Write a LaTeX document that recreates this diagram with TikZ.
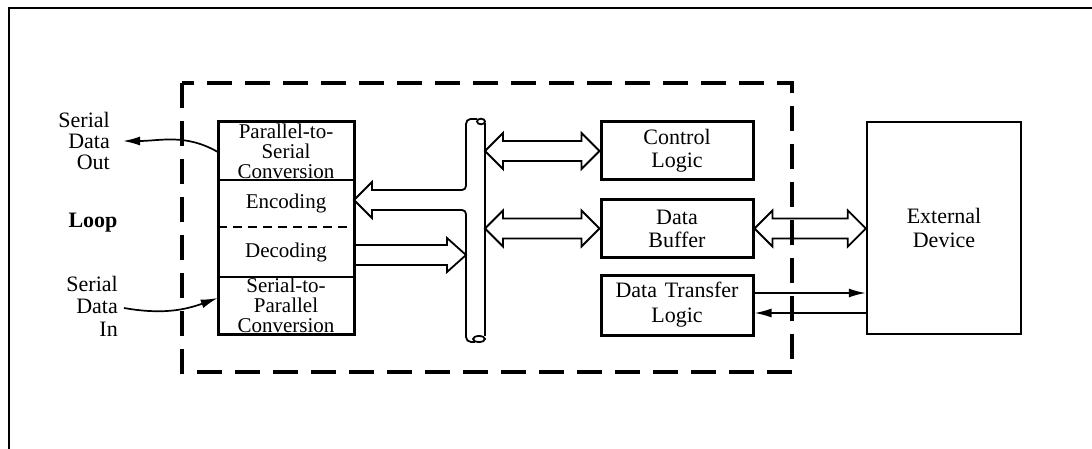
\documentclass[tikz,border=0pt]{standalone}
\usepackage{fontspec}
\setmainfont{Liberation Serif}
\usetikzlibrary{arrows.meta,calc}
\tikzset{
  blk/.style={draw=none, minimum width=136pt, inner sep=0pt, align=center, font=\fontsize{21}{20}\selectfont},
  unit/.style={draw, line width=3pt, minimum width=152pt, inner sep=0pt, align=center},
  hollow/.style={line width=1.8pt, line join=miter},
  conn/.style={line width=1.7pt},
  tip/.style={-{Latex[length=17pt,width=9pt]}},
  lbl/.style={inner sep=0pt, align=right},
}
\newcommand\hdbl[2]{\draw[hollow] let \p1=#1, \p2=#2 in
  (\x1,\y1) -- ++(18pt,18pt) -- ++(0,-8pt) -- (\x2-18pt,\y1+10pt) -- ++(0,8pt)
  -- (\x2,\y1) -- ++(-18pt,-18pt) -- ++(0,8pt) -- (\x1+18pt,\y1-10pt) -- ++(0,-8pt) -- cycle;}
\begin{document}
\begin{tikzpicture}[x=1pt,y=-1pt]
\useasboundingbox (0,0) rectangle (1092,449);
% outer frame
\draw[line width=1.6pt] (9,449) -- (9,8) -- (1092,8);
% dashed boundary
\draw[line width=3.2pt, dash pattern=on 25pt off 13pt] (182,83) rectangle (792,372);

% left stacked box
\node[blk, minimum height=58pt] (ps) at (286,151) {Parallel-to-\\Serial\\Conversion};
\node[blk, minimum height=47pt] (enc) at (286,203.5) {Encoding};
\node[blk, minimum height=50pt] (dec) at (286,252) {Decoding};
\node[blk, minimum height=57pt] (sp) at (286,305.5) {Serial-to-\\Parallel\\Conversion};
\draw[line width=3pt] (218,122) rectangle (354,334);
\draw[line width=1.6pt] (218,180) -- (354,180);
\draw[line width=1.5pt, dash pattern=on 9pt off 6pt] (218,227) -- (354,227);
\draw[line width=1.6pt] (218,277) -- (354,277);

% right boxes
\node[unit, minimum height=58pt, font=\fontsize{22}{23}\selectfont] (cl) at (677,151) {Control\\Logic};
\node[unit, minimum height=57pt, font=\fontsize{22}{23}\selectfont] (db) at (677,228.5) {Data\\Buffer};
\node[unit, minimum height=60pt, font=\fontsize{22}{25}\selectfont] (dtl) at (677,305) {Data\hspace{0.35em}Transfer\\Logic};
\node[draw, line width=2.4pt, minimum width=154pt, minimum height=212pt, inner sep=0pt, align=center,
      font=\fontsize{22}{24}\selectfont] (ext) at (944,228) {External\\Device};

% labels
\node[lbl, anchor=east, font=\fontsize{22}{21}\selectfont] (out) at (110,141) {Serial\\Data\\Out};
\node[inner sep=0pt, font=\fontsize{22}{22}\selectfont\bfseries] (loop) at (93,223) {Loop};
\node[lbl, anchor=east, font=\fontsize{22}{22.5}\selectfont] (in) at (118,306) {Serial\\Data\\In};

% bus
\coordinate (busR) at (485,230);
\draw[hollow] (466,186) -- (466,124) to[out=90,in=180] (470.5,119) -- (477,119);
\draw[hollow] (481,121.5) ellipse [x radius=4pt, y radius=2.8pt];
\draw[hollow] (485,123) -- (485,336);
\draw[hollow] (466,214) -- (466,337) to[out=-90,in=180] (471,342) -- (475,342);
\draw[hollow] (479,339) ellipse [x radius=6pt, y radius=3pt];

% encoding arrow (bus -> encoding)
\draw[hollow] (466,186) to[out=-90,in=0] (462,190) -- (372,190) -- (372,182) -- (354,200)
  -- (372,218) -- (372,210) -- (462,210) to[out=0,in=90] (466,214);
% decoding arrow (decoding -> bus)
\draw[hollow] (354,245) -- (447,245) -- (447,238) -- (466,255) -- (447,272) -- (447,265) -- (354,265);

% double hollow arrows
\hdbl{(busR |- cl.west)}{(cl.west)}
\hdbl{(busR |- db.west)}{(db.west)}
\hdbl{(db.east)}{(ext.west |- db.east)}

% serial data curves
\coordinate (sdo) at (123,141);
\draw[conn,tip] ($(ps.west)+(0,1)$) to[out=150,in=0] (sdo);
\coordinate (sdi) at (124,308);
\draw[conn,tip] (sdi) to[out=-10,in=200] ($(sp.west)+(0,-7.5)$);

% data transfer lines
\coordinate (t1) at ($(dtl.east)+(0,-12)$);
\coordinate (t2) at ($(dtl.east)+(0,8)$);
\draw[conn,tip] (t1) -- (t1 -| ext.west);
\draw[conn,tip] (t2 -| ext.west) -- (t2);
\end{tikzpicture}
\end{document}
